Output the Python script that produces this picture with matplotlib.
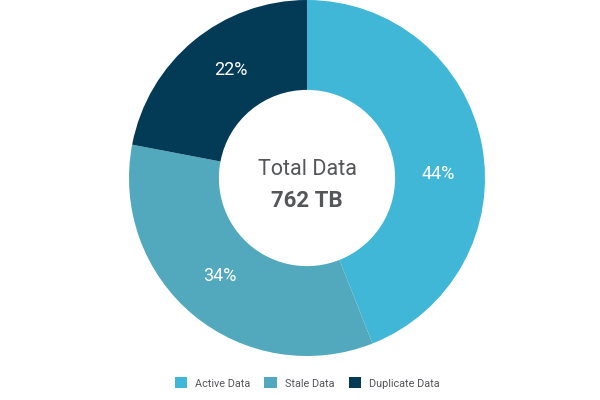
import numpy as np
import matplotlib.pyplot as plt

labels = ['Active Data', 'Stale Data', 'Duplicate Data']
shares = [44, 34, 22]
colors = ['#41b7d8', '#52a9bd', '#033b57']
total_label = 'Total Data'
total_value = '762 TB'

plt.rcParams['font.family'] = ['Roboto', 'DejaVu Sans']

fig = plt.figure(figsize=(6, 4), dpi=100)
ax = fig.add_axes([129 / 600, 44 / 400, 356 / 600, 356 / 400])

wedges, texts, autotexts = ax.pie(
    shares, colors=colors, startangle=90, counterclock=False,
    radius=1, autopct='%d%%', pctdistance=0.74,
    wedgeprops=dict(width=0.505, edgecolor='none'),
    textprops=dict(color='white', fontsize=13))
ax.set_xlim(-1, 1)
ax.set_ylim(-1, 1)
ax.set_aspect('equal')

# nudge the percent labels a little clockwise, like the original
shift = [9, 2, 4.5]
for w, t, s in zip(wedges, autotexts, shift):
    ang = np.deg2rad((w.theta1 + w.theta2) / 2 - s)
    t.set_position((0.74 * np.cos(ang), 0.74 * np.sin(ang)))

ax.text(0, 0.045, total_label, ha='center', va='center', fontsize=15.5, color='#55565a')
ax.text(0, -0.13, total_value, ha='center', va='center', fontsize=16,
        fontweight='bold', color='#55565a')

fig.legend(wedges, labels, loc='center', bbox_to_anchor=(0.512, 1 - 383 / 400),
           ncol=3, frameon=False, fontsize=7.8, labelcolor='#55565a',
           handlelength=1.15, handleheight=1.15, columnspacing=1.3, handletextpad=0.75)

fig.savefig('out.png', dpi=100)
